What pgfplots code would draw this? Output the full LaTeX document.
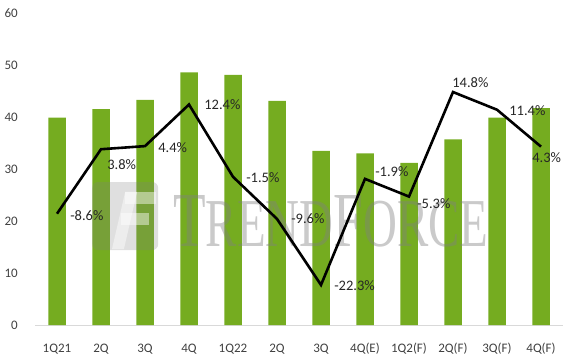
\documentclass[border=0pt]{standalone}
\usepackage{fontspec}
\setmainfont{Carlito}
\newfontfamily\wmfont{Liberation Serif}
\usepackage{graphicx}
\usepackage{pgfplots}
\usepackage{pgfplotstable}
\pgfplotsset{compat=1.18}
\definecolor{bargreen}{RGB}{117,172,32}
\definecolor{ticktext}{RGB}{64,64,64}

\pgfplotstableread{
x v
0 39.9
1 41.5
2 43.3
3 48.6
4 48.1
5 43.1
6 33.5
7 33.0
8 31.2
9 35.7
10 39.9
11 41.7
}\bars

\pgfplotstableread{
x p lab dx dy
0 -8.6 -8.6 12 -2
1 3.8 3.8 5 -15
2 4.4 4.4 12 -1
3 12.4 12.4 14 0
4 -1.5 -1.5 12 -1
5 -9.6 -9.6 13 0
6 -22.3 -22.3 12 -1
7 -1.9 -1.9 9 7
8 -5.3 -5.3 7 -7
9 14.8 14.8 -2 9
10 11.4 11.4 11 -1
11 4.3 4.3 -10 -11
}\growth

\begin{document}
\begin{tikzpicture}
\path[use as bounding box] (-35bp,-37bp) rectangle (534bp,325bp);
\begin{axis}[
  scale only axis,
  width=528bp, height=312bp,
  xmin=-0.5, xmax=11.5,
  ymin=0, ymax=60,
  ytick={0,10,...,60},
  xtick={0,...,11},
  xticklabels={1Q21,2Q,3Q,4Q,1Q22,2Q,3Q,4Q(E),1Q2(F),2Q(F),3Q(F),4Q(F)},
  axis x line*=bottom,
  axis y line*=left,
  y axis line style={draw=none},
  x axis line style={draw=black!15, line width=1bp, -},
  major tick length=0pt,
  tick style={draw=none},
  ticklabel style={font=\fontsize{13bp}{15bp}\selectfont, text=ticktext},
  yticklabel style={inner sep=0pt, anchor=east, xshift=-17bp},
  xticklabel style={inner sep=0pt, anchor=base, yshift=-27bp},
  /pgf/number format/assume math mode=true,
  clip=false,
]
\addplot[ybar, bar width=17.5bp, fill=bargreen, draw=none] table[x=x, y=v] {\bars};
% watermark logo
\fill[gray, opacity=0.25, rounded corners=6bp] (axis cs:0.8,14.4) rectangle (axis cs:2.3,27.5);
\fill[white, opacity=0.45] (axis cs:1.25,14.6) -- (axis cs:1.52,14.6) -- (axis cs:1.82,25.6) -- (axis cs:1.55,25.6) -- cycle;
\fill[white, opacity=0.45] (axis cs:1.55,25.6) rectangle (axis cs:2.25,23.2);
\fill[white, opacity=0.45] (axis cs:1.45,21.6) rectangle (axis cs:2.1,19.3);
% watermark text
\node[anchor=south west, inner sep=0pt, text=gray, opacity=0.42] at (axis cs:2.64,14.9)
  {\resizebox{315bp}{51bp}{\wmfont T\fontsize{0.88em}{1em}\selectfont REND\fontsize{1.136em}{1em}\selectfont F\fontsize{0.88em}{1em}\selectfont ORCE}};
\end{axis}
\begin{axis}[
  scale only axis,
  width=528bp, height=312bp,
  xmin=-0.5, xmax=11.5,
  ymin=-30, ymax=30,
  hide axis,
  clip=false,
]
\addplot[black, line width=2.6bp, mark=none,
  point meta=explicit symbolic,
  visualization depends on={\thisrow{dx} \as \dx},
  visualization depends on={\thisrow{dy} \as \dy},
  nodes near coords={\pgfplotspointmeta\%},
  nodes near coords style={anchor=west, inner sep=0pt, xshift=\dx bp, yshift=\dy bp,
     font=\fontsize{14.5bp}{16bp}\selectfont, text=black!85},
] table[x=x, y=p, meta=lab] {\growth};
\end{axis}
\end{tikzpicture}
\end{document}
